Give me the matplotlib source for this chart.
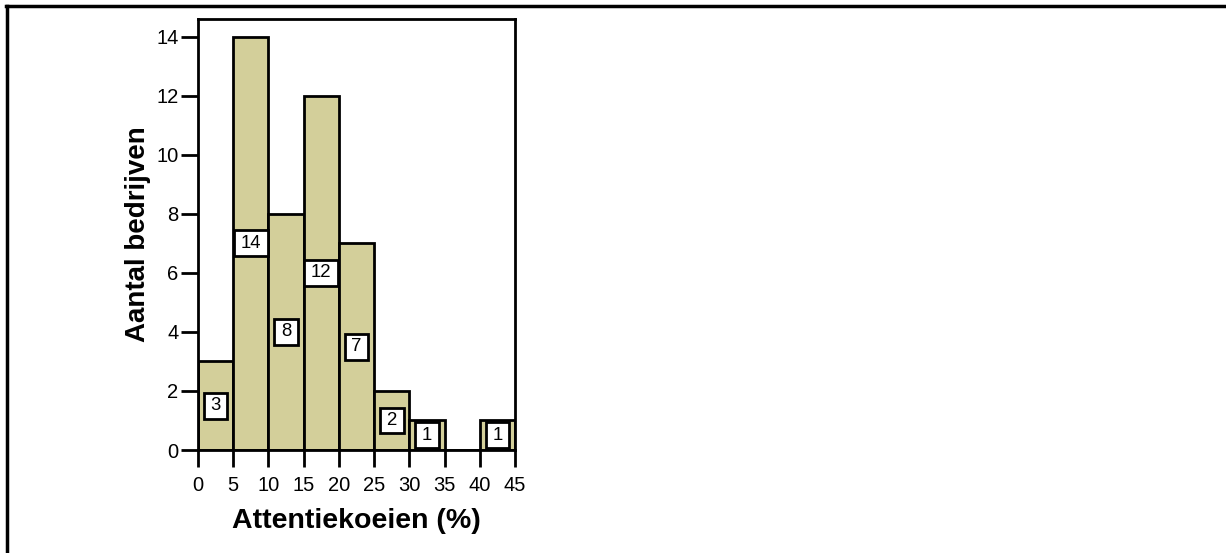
import matplotlib
matplotlib.use("Agg")
import matplotlib.pyplot as plt
from matplotlib.lines import Line2D
from matplotlib.path import Path

plt.rcParams['font.family'] = ['Liberation Sans', 'DejaVu Sans']

bin_edges = [0, 5, 10, 15, 20, 25, 30, 35, 40, 45]
counts = [3, 14, 8, 12, 7, 2, 1, 0, 1]
x_ticks = [0, 5, 10, 15, 20, 25, 30, 35, 40, 45]
y_ticks = [0, 2, 4, 6, 8, 10, 12, 14]
x_label = "Attentiekoeien (%)"
y_label = "Aantal bedrijven"

W, H = 1226, 553
fig = plt.figure(figsize=(W / 100, H / 100), dpi=100)
ax = fig.add_axes([198 / W, 1 - 450 / H, (515 - 198) / W, (450 - 19) / H])


def label_box(x0, y0, width, height, mutation_size):
    px = 0.36 * mutation_size
    py = 0.24 * mutation_size
    a, b = x0 - px, y0 - py
    c, d = x0 + width + px, y0 + height + py
    return Path([(a, b), (c, b), (c, d), (a, d), (a, b)], closed=True)


lefts = bin_edges[:-1]
widths = [b - a for a, b in zip(bin_edges[:-1], bin_edges[1:])]
ax.bar(lefts, counts, width=widths, align='edge', color='#D3CF9A',
       edgecolor='black', linewidth=2, zorder=2)

for l, w, c in zip(lefts, widths, counts):
    if c > 0:
        ax.text(l + w / 2, c / 2, str(c), ha='center', va='center', fontsize=13.4,
                zorder=3,
                bbox=dict(boxstyle=label_box, fc='white', ec='black', lw=2))

ax.set_xlim(0, 45)
ax.set_ylim(0, 14.6)
ax.set_xticks(x_ticks)
ax.set_yticks(y_ticks)
ax.tick_params(axis='both', direction='out', length=12, width=2, labelsize=14.5)
ax.tick_params(axis='x', pad=7)
ax.tick_params(axis='y', pad=2)
for s in ax.spines.values():
    s.set_linewidth(2)
ax.set_xlabel(x_label, fontsize=20.5, fontweight='bold', labelpad=9)
ax.set_ylabel(y_label, fontsize=20, fontweight='bold', labelpad=4)

fig.add_artist(Line2D([6 / W, 1], [1 - 6 / H, 1 - 6 / H], color='black', lw=2.5, transform=fig.transFigure))
fig.add_artist(Line2D([7 / W, 7 / W], [0, 1 - 6 / H], color='black', lw=2.5, transform=fig.transFigure))

fig.savefig('out.png', dpi=100)
